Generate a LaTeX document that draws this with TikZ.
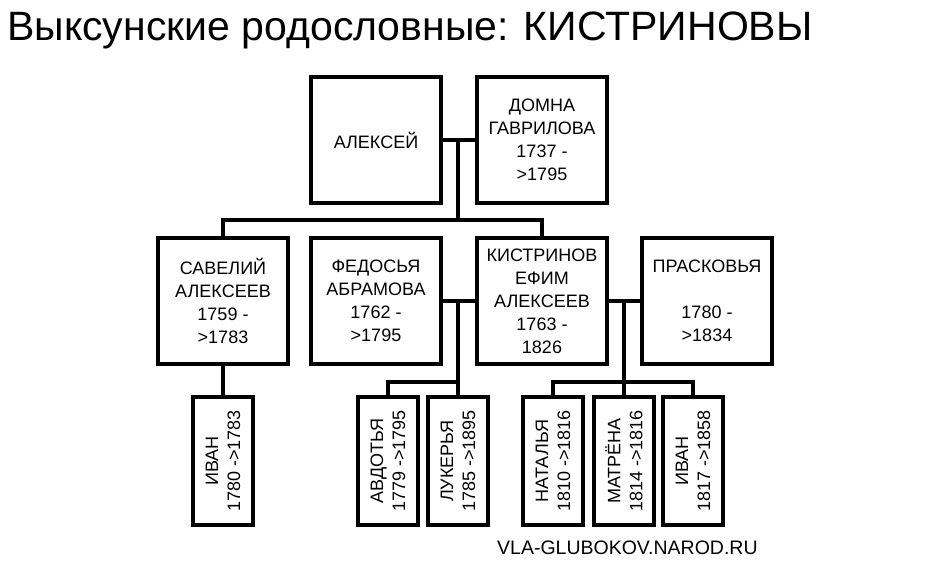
\documentclass[tikz,border=0pt]{standalone}
\usepackage{fontspec}
\setmainfont{Liberation Sans}
\begin{document}
\begin{tikzpicture}[x=1pt,y=-1pt,
  bx/.style={draw,line width=4pt,minimum width=130pt,minimum height=126pt,align=center,font=\fontsize{18}{23}\selectfont,inner sep=0pt},
  kid/.style={draw,line width=4pt,minimum width=128pt,minimum height=60pt,align=center,rotate=90,font=\fontsize{18}{22}\selectfont,inner sep=0pt},
  ln/.style={line width=4pt}]
\useasboundingbox (0,0) rectangle (935,567);
\node[anchor=north west,font=\fontsize{41}{44}\selectfont,inner sep=0pt] (title) at (7,12) {Выксунские родословные: КИСТРИНОВЫ};
\node[bx] (a) at (376,140) {АЛЕКСЕЙ};
\node[bx] (d) at (542,140) {ДОМНА\\ГАВРИЛОВА\\1737 -\\>1795};
\node[bx] (s) at (223,301) {САВЕЛИЙ\\АЛЕКСЕЕВ\\1759 -\\>1783};
\node[bx] (f) at (376,301) {ФЕДОСЬЯ\\АБРАМОВА\\1762 -\\>1795};
\node[bx] (e) at (542,301) {КИСТРИНОВ\\ЕФИМ\\АЛЕКСЕЕВ\\1763 -\\1826};
\node[bx] (p) at (707,301) {ПРАСКОВЬЯ\\\\1780 -\\>1834};
\node[kid] (k1) at (223,461) {ИВАН\\1780 ->1783};
\node[kid] (k2) at (388,461) {АВДОТЬЯ\\1779 ->1795};
\node[kid] (k3) at (458,461) {ЛУКЕРЬЯ\\1785 ->1895};
\node[kid] (k4) at (553,461) {НАТАЛЬЯ\\1810 ->1816};
\node[kid] (k5) at (624,461) {МАТРЁНА\\1814 ->1816};
\node[kid] (k6) at (693,461) {ИВАН\\1817 ->1858};
\node[anchor=west,font=\fontsize{19.5}{22}\selectfont,inner sep=0pt] (url) at (497,548) {VLA-GLUBOKOV.NAROD.RU};
\coordinate (m1) at (458,140);
\coordinate (j1) at (458,220);
\coordinate (m2) at (458,301);
\coordinate (j2) at (458,382);
\coordinate (m3) at (624,301);
\coordinate (j3) at (624,382);
\draw[ln] (a.east) -- (d.west);
\draw[ln] (m1) -- (j1);
\draw[ln] (s.north) -- (s.north|-j1) -- (e.north|-j1) -- (e.north);
\draw[ln] (f.east) -- (e.west);
\draw[ln] (m2) -- (j2);
\draw[ln] (k2.east) -- (k2.east|-j2) -- (k3.east|-j2) -- (k3.east);
\draw[ln] (e.east) -- (p.west);
\draw[ln] (m3) -- (j3);
\draw[ln] (k4.east) -- (k4.east|-j3) -- (k6.east|-j3) -- (k6.east);
\draw[ln] (k5.east) -- (j3);
\draw[ln] (s.south) -- (k1.east);
\end{tikzpicture}
\end{document}
